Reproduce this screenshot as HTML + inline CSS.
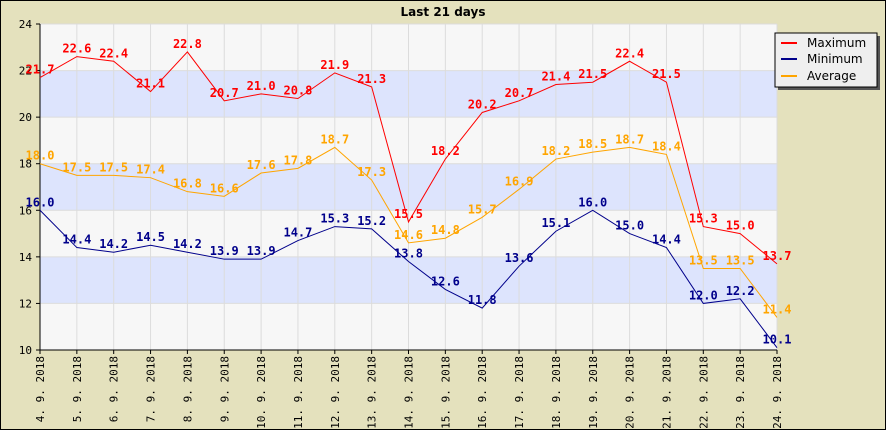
<!DOCTYPE html>
<html><head><meta charset="utf-8"><style>
body{margin:0;background:#e4e1bd;}
svg{display:block;font-family:"DejaVu Sans Mono","Liberation Mono",monospace;}
</style></head><body>
<svg id="c" width="886" height="430">
<rect x="0.5" y="0.5" width="885" height="429" fill="#e4e1bd" stroke="#000"/>
<text x="443" y="16" text-anchor="middle" font-family="DejaVu Sans,sans-serif" font-weight="bold" font-size="12">Last 21 days</text>
<g id="plot"></g>
<g>
<rect x="778" y="36" width="102" height="54" fill="#555"/>
<rect x="775" y="33" width="102" height="54" fill="#efefef" stroke="#000"/>
<line x1="781" y1="43" x2="797" y2="43" stroke="red" stroke-width="2"/><text x="807" y="47" font-family="DejaVu Sans,sans-serif" font-size="12">Maximum</text>
<line x1="781" y1="59" x2="797" y2="59" stroke="#00008b" stroke-width="2"/><text x="807" y="63" font-family="DejaVu Sans,sans-serif" font-size="12">Minimum</text>
<line x1="781" y1="76" x2="797" y2="76" stroke="orange" stroke-width="2"/><text x="807" y="80" font-family="DejaVu Sans,sans-serif" font-size="12">Average</text>
</g>
</svg>
<script>
const categories=["4. 9. 2018","5. 9. 2018","6. 9. 2018","7. 9. 2018","8. 9. 2018","9. 9. 2018","10. 9. 2018","11. 9. 2018","12. 9. 2018","13. 9. 2018","14. 9. 2018","15. 9. 2018","16. 9. 2018","17. 9. 2018","18. 9. 2018","19. 9. 2018","20. 9. 2018","21. 9. 2018","22. 9. 2018","23. 9. 2018","24. 9. 2018"];
const maxValues=[21.7,22.6,22.4,21.1,22.8,20.7,21.0,20.8,21.9,21.3,15.5,18.2,20.2,20.7,21.4,21.5,22.4,21.5,15.3,15.0,13.7];
const minValues=[16.0,14.4,14.2,14.5,14.2,13.9,13.9,14.7,15.3,15.2,13.8,12.6,11.8,13.6,15.1,16.0,15.0,14.4,12.0,12.2,10.1];
const avgValues=[18.0,17.5,17.5,17.4,16.8,16.6,17.6,17.8,18.7,17.3,14.6,14.8,15.7,16.9,18.2,18.5,18.7,18.4,13.5,13.5,11.4];
const yTicks=[10,12,14,16,18,20,22,24];
const NS="http://www.w3.org/2000/svg";
const L=40,R=777,T=24,B=350,yMin=10,yMax=24;
const xs=i=>L+(R-L)*i/(categories.length-1);
const ys=v=>B-(B-T)*(v-yMin)/(yMax-yMin);
const g=document.getElementById('plot');
function mk(t,a){const e=document.createElementNS(NS,t);for(const k in a)e.setAttribute(k,a[k]);g.appendChild(e);return e;}
for(let k=0;k<yTicks.length-1;k++){
 const a=yTicks[k],b=yTicks[k+1];
 const r=mk('rect',{x:L,y:ys(b),width:R-L,height:ys(a)-ys(b),fill:(k%2?'#dde4fd':'#f7f7f7')});
 
 
}
categories.forEach((c,i)=>{
 const x=xs(i);
 const gl=mk('line',{x1:x,y1:T,x2:x,y2:B,stroke:'#dcdcdc'});
 
 
 mk('line',{x1:x,y1:B,x2:x,y2:B+4,stroke:'#000'});
 const t=mk('text',{transform:`translate(${x+4},${B+6}) rotate(-90)`,'text-anchor':'end','font-size':'11'});
 t.textContent=c;
 
 
});
yTicks.forEach(v=>{
 const y=ys(v);
 const gl=mk('line',{x1:L,y1:y,x2:R,y2:y,stroke:'#dcdcdc'});
 
 
 mk('line',{x1:L-4,y1:y,x2:L,y2:y,stroke:'#000'});
 const t=mk('text',{x:L-8,y:y+4,'text-anchor':'end','font-size':'11'});
 t.textContent=v;
 
 
});
mk('line',{x1:L,y1:T,x2:L,y2:B,stroke:'#000'});
mk('line',{x1:L,y1:B,x2:R,y2:B,stroke:'#000'});
function series(vals,col,name){
 const p=mk('polyline',{points:vals.map((v,i)=>xs(i)+','+ys(v)).join(' '),fill:'none',stroke:col,'stroke-width':1});
 
 
 vals.forEach((v,i)=>{
  const t=mk('text',{x:xs(i),y:ys(v)-4,'text-anchor':'middle','font-size':'12','font-weight':'bold',fill:col});
  t.textContent=v.toFixed(1);
  
  
 });
}
series(maxValues,'#ff0000','maximum');
series(avgValues,'#ffa500','average');
series(minValues,'#00008b','minimum');
</script>
</body></html>
